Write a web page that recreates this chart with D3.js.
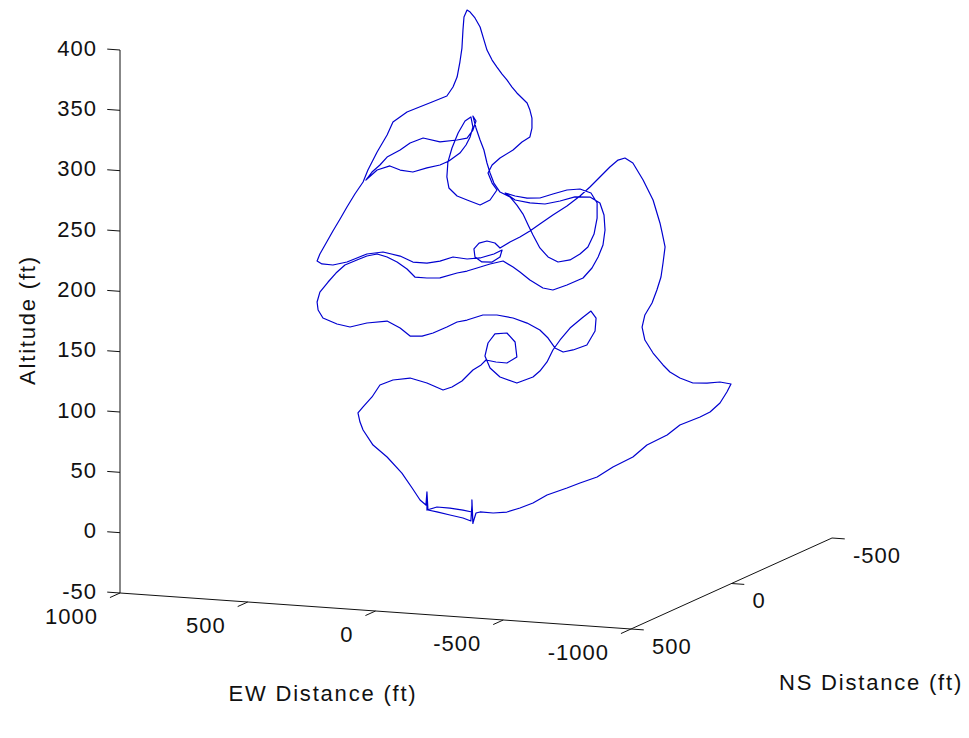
<!DOCTYPE html>
<html>
<head>
<meta charset="utf-8">
<script src="https://cdn.jsdelivr.net/npm/d3@7"></script>
<style>
  html, body { margin: 0; padding: 0; background: #fff; }
  svg { display: block; }
  text { font-family: "Liberation Sans", Arial, Helvetica, sans-serif; fill: #111; }
</style>
</head>
<body>
<svg id="chart" width="969" height="738"></svg>
<script>
// Axis ticks
const ewTicks = [1000, 500, 0, -500, -1000];
const nsTicks = [500, 0, -500];
const altTicks = [-50, 0, 50, 100, 150, 200, 250, 300, 350, 400];

// Flight track, east-west distance (ft)
const trackEW = [
  192, 192, 153, 102, 51, 16, 16, 12, 0, -16, -67, -121, -172, -223, -278, -356, -407, -474, -536, -614,
  -669, -748, -798, -877, -916, -955, -982, -998, -955, -904, -849, -798, -759, -732, -693, -661, -650, -661, -689, -708,
  -724, -732, -740, -728, -720, -693, -654, -614, -583, -556, -524, -485, -446, -407, -356, -301, -250, -211, -172, -133,
  -94, -74, -43, -12, 8, 4, -23, -63, -94, -102, -70, -16, 35, 90, 141, 192, 247, 297, 364, 427,
  466, 505, 560, 603, 622, 611, 591, 560, 532, 505, 474, 442, 423, 387, 348, 325, 270, 231, 172, 114,
  90, 74, 63, 55, 51, 47, 35, 23, 4, -16, -31, -43, -63, -82, -102, -121, -141, -160, -180, -200,
  -211, -219, -219, -211, -180, -145, -94, -63, -47, -63, -82, -55, -16, 35, 74, 106, 114, 110, 94, 70,
  43, 20, 12, 23, 39, 63, 106, 141, 192, 247, 297, 337, 387, 431, 407, 376, 348, 297, 258, 207,
  141, 74, 35, 12, 0, 12, 0, -16, -31, -43, -55, -70, -94, -133, -160, -184, -204, -223, -250, -282,
  -321, -368, -407, -438, -462, -474, -474, -450, -407, -356, -301, -250, -200, -153, -114, -153, -211, -270, -329, -387,
  -446, -485, -501, -505, -497, -478, -454, -419, -356, -301, -262, -211, -172, -145, -106, -55, -4, 35, 74, 141,
  192, 239, 270, 309, 348, 387, 427, 466, 513, 548, 579, 611, 622, 618, 599, 544, 493, 427, 348, 297,
  258, 211, 168, 114, 74, 35, -27, -82, -145, -200, -250, -282, -309, -341, -380, -434, -466, -470, -450, -415,
  -368, -329, -301, -278, -250, -223, -160, -94, -55, -35, -47, -74, -121, -153, -160, -121, -78, -39, -20, 12,
  55, 94, 129, 192, 258, 325, 376, 407, 442, 462, 454, 442, 403, 348, 290, 250, 219, 196, 192, 188,
  153, 102, 51, 20, 16, 12
];

// Flight track, altitude (ft)
const trackAlt = [
  3.1, -6.9, -3.8, -3.9, -4.8, -5.9, 4.1, -15.0, -6.5, -5.4, -5.5, -3.9, 0.2, 5.1, 12.6, 19.5, 24.4, 30.4, 39.6, 49.1,
  59.9, 69.3, 78.3, 86.1, 90.9, 98.9, 108.4, 115.3, 116.3, 114.7, 113.9, 117.3, 121.7, 127.1, 136.4, 146.7, 157.3, 167.5, 177.8, 188.9,
  199.9, 211.6, 225.0, 237.2, 244.6, 263.2, 279.2, 292.7, 296.4, 294.3, 288.1, 279.2, 270.3, 262.3, 253.2, 245.0, 236.7, 230.4, 224.8, 220.1,
  214.5, 218.4, 219.6, 217.4, 212.2, 205.6, 201.9, 202.4, 207.1, 213.0, 209.2, 205.1, 203.5, 204.3, 200.2, 197.8, 197.8, 202.0, 204.4, 201.8,
  197.9, 194.0, 190.7, 190.9, 193.1, 199.0, 206.8, 218.9, 229.2, 239.6, 250.8, 261.2, 271.4, 286.9, 301.6, 312.7, 321.8, 325.7, 331.5, 337.4,
  345.2, 353.7, 366.3, 378.0, 393.0, 403.9, 409.8, 408.3, 403.7, 396.5, 386.0, 377.8, 369.8, 364.3, 358.8, 354.2, 348.6, 344.0, 340.1, 336.3,
  330.6, 324.1, 315.8, 308.3, 303.6, 296.5, 289.1, 282.8, 276.0, 267.9, 262.4, 253.7, 249.0, 252.4, 255.1, 261.3, 270.3, 282.7, 294.6, 307.4,
  317.7, 321.4, 313.2, 304.8, 297.9, 290.9, 283.6, 279.8, 276.6, 272.4, 273.3, 276.1, 272.0, 263.0, 270.0, 276.3, 283.3, 289.9, 296.3, 301.2,
  298.9, 301.5, 303.7, 310.7, 318.4, 322.3, 312.6, 302.9, 294.8, 284.2, 276.1, 268.0, 260.9, 257.4, 251.1, 244.0, 235.2, 227.2, 216.9, 209.9,
  206.3, 208.7, 214.2, 220.5, 231.6, 245.0, 257.5, 265.4, 268.1, 266.5, 262.4, 258.3, 257.5, 258.5, 260.4, 255.2, 253.6, 253.6, 257.0, 261.2,
  262.0, 257.7, 247.9, 235.6, 223.0, 212.8, 203.3, 194.5, 187.8, 182.8, 183.9, 189.8, 195.8, 199.5, 203.9, 200.7, 196.6, 193.5, 191.3, 186.2,
  185.4, 185.5, 191.7, 196.9, 200.5, 202.4, 200.1, 196.2, 191.4, 184.2, 176.3, 167.5, 159.1, 152.5, 146.2, 142.0, 140.3, 144.6, 147.4, 142.4,
  136.3, 137.0, 140.2, 146.0, 150.7, 152.9, 158.0, 158.8, 157.3, 153.9, 148.9, 142.7, 134.9, 132.0, 134.3, 139.2, 151.3, 162.1, 167.6, 161.3,
  152.3, 141.8, 133.1, 122.8, 114.9, 109.5, 103.6, 107.6, 114.5, 124.1, 135.1, 143.0, 144.5, 137.5, 125.2, 119.6, 119.8, 120.9, 116.5, 111.8,
  102.1, 96.5, 93.5, 98.4, 101.5, 98.9, 94.0, 83.6, 74.8, 69.5, 62.1, 55.7, 43.8, 34.7, 22.3, 10.5, 1.0, -2.8, 8.1, -6.8,
  -7.9, -9.7, -11.4, -13.4, -0.1, -15.8
];

// North-south position of the track plane (ft)
const trackNS = 0;

const svg = d3.select("#chart");

// Box limits
const ewDomain = [1000, -1000];
const nsDomain = [500, -500];
const altDomain = [-50, 400];

// Oblique 3-D view: each horizontal axis runs along its own screen direction,
// altitude runs straight up.
const ewS = d3.scaleLinear().domain(ewDomain).range([0, 1]);
const nsS = d3.scaleLinear().domain(nsDomain).range([0, 1]);
const altS = d3.scaleLinear().domain(altDomain).range([593, 50]);
const originX = 120;
const ewVec = [511, 36];
const nsVec = [201, -91];

function project(ew, ns, alt) {
  const a = ewS(ew), b = nsS(ns);
  return [originX + a * ewVec[0] + b * nsVec[0],
          altS(alt) + a * ewVec[1] + b * nsVec[1]];
}

const axisColor = "#111";
const line = d3.line();

// Axis lines
const g = svg.append("g").attr("stroke", axisColor).attr("stroke-width", 1).attr("fill", "none");
g.append("path").attr("d", line([project(1000, 500, altDomain[0]), project(1000, 500, altDomain[1])]));
g.append("path").attr("d", line([project(ewDomain[0], 500, -50), project(ewDomain[1], 500, -50)]));
g.append("path").attr("d", line([project(-1000, nsDomain[0], -50), project(-1000, nsDomain[1], -50)]));

const tickLenEW = 50, tickLenNS = 50;

// Altitude ticks and labels
altTicks.forEach(v => {
  const p0 = project(1000, 500, v), p1 = project(1000 + tickLenEW, 500, v);
  g.append("path").attr("d", line([p0, p1]));
  svg.append("text")
    .attr("x", p0[0] - 23).attr("y", p0[1] - 2)
    .attr("text-anchor", "end").attr("dominant-baseline", "central")
    .attr("font-size", 22).attr("letter-spacing", 1)
    .text(v);
});

// EW ticks and labels
ewTicks.forEach(v => {
  const p0 = project(v, 500, -50), p1 = project(v, 500 + tickLenNS, -50);
  g.append("path").attr("d", line([p0, p1]));
  svg.append("text")
    .attr("x", p0[0] - 22).attr("y", p0[1] + 23)
    .attr("text-anchor", "end").attr("dominant-baseline", "central")
    .attr("font-size", 22).attr("letter-spacing", 1)
    .text(v);
});

// NS ticks and labels
nsTicks.forEach(v => {
  const p0 = project(-1000, v, -50), p1 = project(-1000 - tickLenEW, v, -50);
  g.append("path").attr("d", line([p0, p1]));
  svg.append("text")
    .attr("x", p0[0] + 21).attr("y", p0[1] + 17)
    .attr("text-anchor", "start").attr("dominant-baseline", "central")
    .attr("font-size", 22).attr("letter-spacing", 1)
    .text(v);
});

// Axis titles
svg.append("text")
  .attr("transform", "translate(27,320) rotate(-90)")
  .attr("text-anchor", "middle").attr("dominant-baseline", "central")
  .attr("font-size", 22).attr("letter-spacing", 1.8)
  .text("Altitude (ft)");
svg.append("text")
  .attr("x", 323).attr("y", 693)
  .attr("text-anchor", "middle").attr("dominant-baseline", "central")
  .attr("font-size", 22).attr("letter-spacing", 1.8)
  .text("EW Distance (ft)");
svg.append("text")
  .attr("x", 871).attr("y", 682)
  .attr("text-anchor", "middle").attr("dominant-baseline", "central")
  .attr("font-size", 22).attr("letter-spacing", 1.8)
  .text("NS Distance (ft)");

// Flight track
const pts = trackEW.map((e, i) => project(e, trackNS, trackAlt[i]));
svg.append("path")
  .attr("d", line(pts))
  .attr("fill", "none")
  .attr("stroke", "#0000d0")
  .attr("stroke-width", 1.2)
  .attr("stroke-linejoin", "round");
</script>
</body>
</html>
